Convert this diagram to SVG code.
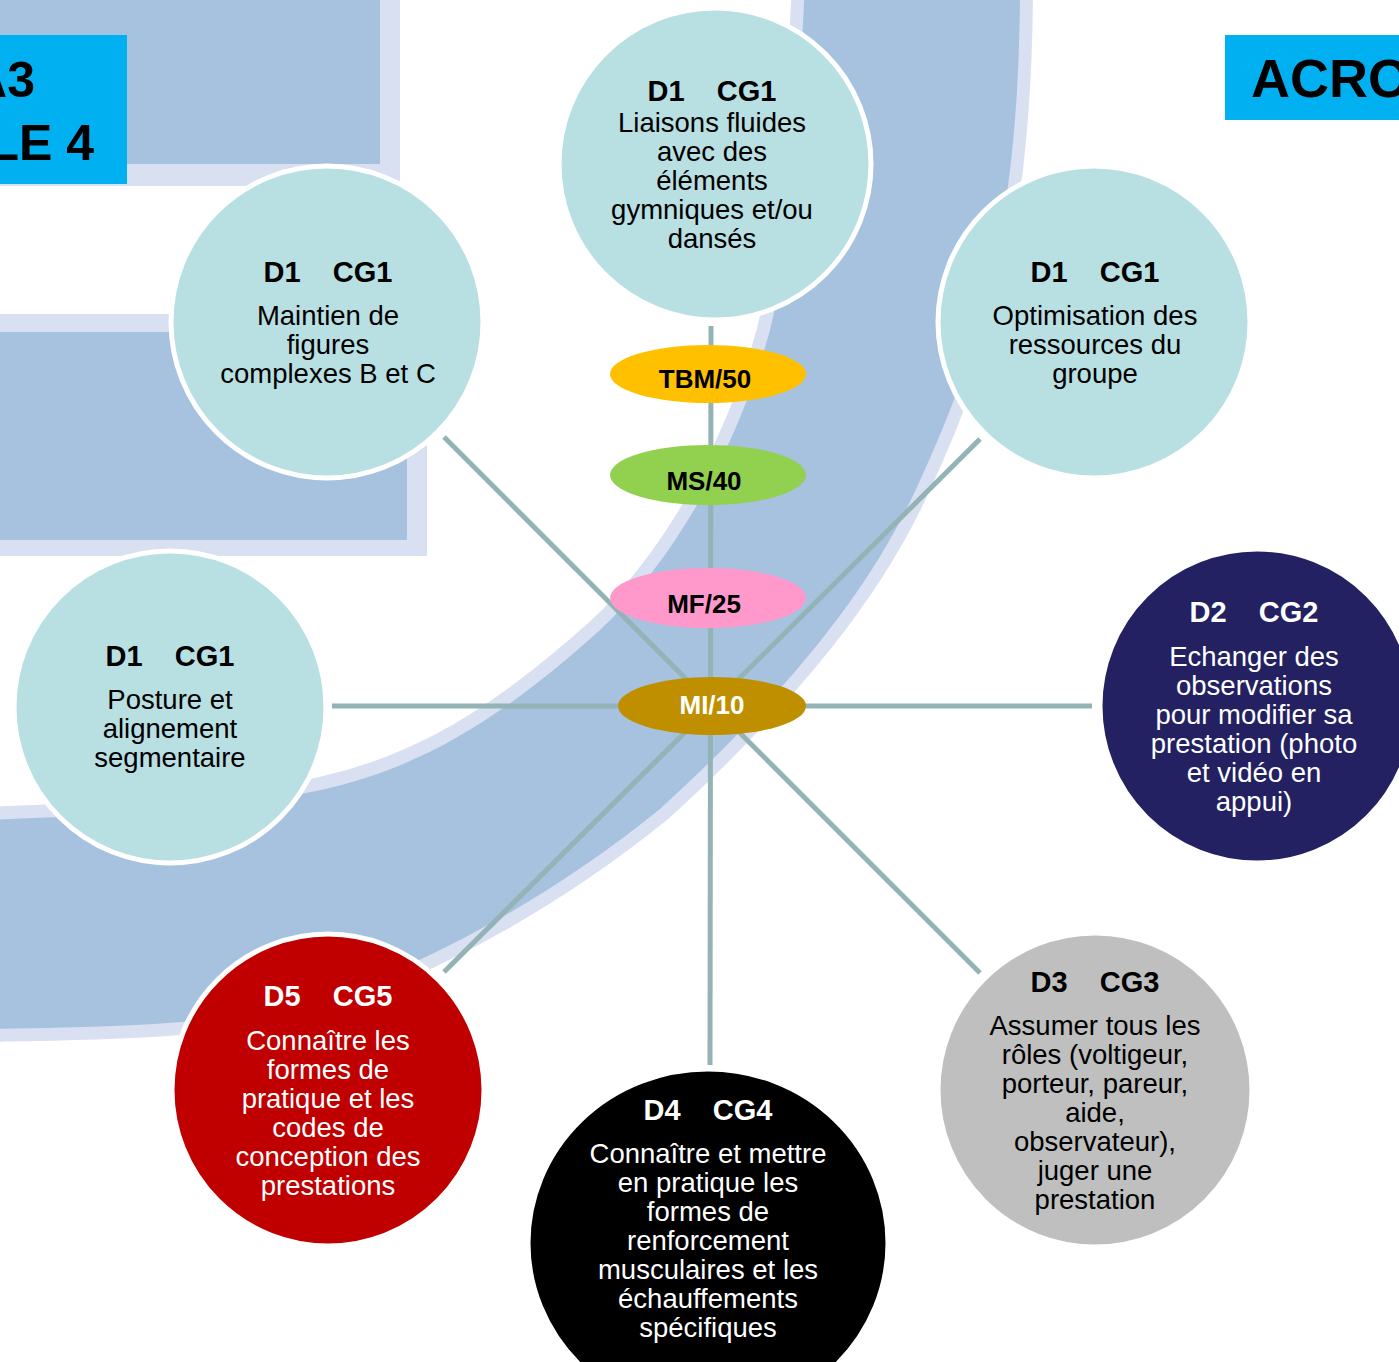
<svg xmlns="http://www.w3.org/2000/svg" width="1399" height="1362" viewBox="0 0 1399 1362">
  <style>
    .bg { fill: #a6c2df; }
    .fr { fill: #d9e0f1; }
    .band-fr { fill: none; stroke: #d9e0f1; stroke-width: 26; stroke-linejoin: round; }
    .conn { stroke: #93b3b6; stroke-width: 5; fill: none; }
    .node { stroke: #ffffff; stroke-width: 5; }
    .teal { fill: #b8dfe2; }
    .hd { font-family: "Liberation Sans", Arial, sans-serif; font-weight: bold; font-size: 29px; text-anchor: middle; white-space: pre; }
    .bd { font-family: "Liberation Sans", Arial, sans-serif; font-size: 27.5px; text-anchor: middle; }
    .lvl { font-family: "Liberation Sans", Arial, sans-serif; font-weight: bold; font-size: 26px; text-anchor: middle; }
    .ttl { font-family: "Liberation Sans", Arial, sans-serif; font-weight: bold; fill: #000; }
    .dk { fill: #000000; }
    .wt { fill: #ffffff; }
  </style>

  <g id="background">
    <rect x="0" y="0" width="1399" height="1362" fill="#ffffff"/>
    <rect class="fr" x="-10" y="-10" width="410" height="196"/>
    <rect class="bg" x="-10" y="-10" width="390" height="174"/>
    <rect class="fr" x="-10" y="314" width="437" height="242"/>
    <rect class="bg" x="-10" y="332" width="417" height="208"/>
    <path class="band-fr" d="M1020,-20 C1020,200 990,330 917,487 C870,590 790,690 660,809 C560,890 440,960 312,1003 C200,1027 100,1027 -20,1029 L-20,820 C150,815 250,805 321,790 C420,768 500,720 600,630 C680,555 740,440 770,330 C790,250 800,100 805,-20 Z"/>
    <path class="bg" d="M1020,-20 C1020,200 990,330 917,487 C870,590 790,690 660,809 C560,890 440,960 312,1003 C200,1027 100,1027 -20,1029 L-20,820 C150,815 250,805 321,790 C420,768 500,720 600,630 C680,555 740,440 770,330 C790,250 800,100 805,-20 Z"/>
  </g>

  <g id="title-left">
    <rect x="0" y="35" width="127" height="149" fill="#00b0f0"/>
    <text class="ttl" x="35" y="97" font-size="50" text-anchor="end">A3</text>
    <text class="ttl" x="94" y="160" font-size="50" text-anchor="end">LE 4</text>
  </g>
  <g id="title-right">
    <rect x="1225" y="35" width="180" height="85" fill="#00b0f0"/>
    <text class="ttl" x="1251" y="97" font-size="54">ACRO</text>
  </g>

  <g id="connectors">
    <line class="conn" x1="711" y1="326" x2="710" y2="1065"/>
    <line class="conn" x1="332" y1="706" x2="1092" y2="706"/>
    <line class="conn" x1="444" y1="437" x2="980" y2="973"/>
    <line class="conn" x1="980" y1="439" x2="444" y2="972"/>
  </g>

  <g id="node-liaisons">
    <circle class="node teal" cx="715" cy="164" r="156"/>
    <text class="hd dk" x="712" y="101">D1    CG1</text>
    <text class="bd dk" x="712" y="132">Liaisons fluides</text>
    <text class="bd dk" x="712" y="161">avec des</text>
    <text class="bd dk" x="712" y="190">éléments</text>
    <text class="bd dk" x="712" y="219">gymniques et/ou</text>
    <text class="bd dk" x="712" y="248">dansés</text>
  </g>

  <g id="node-maintien">
    <circle class="node teal" cx="327" cy="322" r="156"/>
    <text class="hd dk" x="328" y="282">D1    CG1</text>
    <text class="bd dk" x="328" y="325">Maintien de</text>
    <text class="bd dk" x="328" y="354">figures</text>
    <text class="bd dk" x="328" y="383">complexes B et C</text>
  </g>

  <g id="node-optimisation">
    <circle class="node teal" cx="1094" cy="322" r="156"/>
    <text class="hd dk" x="1095" y="282">D1    CG1</text>
    <text class="bd dk" x="1095" y="325">Optimisation des</text>
    <text class="bd dk" x="1095" y="354">ressources du</text>
    <text class="bd dk" x="1095" y="383">groupe</text>
  </g>

  <g id="node-posture">
    <circle class="node teal" cx="170" cy="707" r="156"/>
    <text class="hd dk" x="170" y="666">D1    CG1</text>
    <text class="bd dk" x="170" y="709">Posture et</text>
    <text class="bd dk" x="170" y="738">alignement</text>
    <text class="bd dk" x="170" y="767">segmentaire</text>
  </g>

  <g id="node-d2">
    <circle class="node" cx="1257" cy="706" r="157" fill="#232162"/>
    <text class="hd wt" x="1254" y="622">D2    CG2</text>
    <text class="bd wt" x="1254" y="666">Echanger des</text>
    <text class="bd wt" x="1254" y="695">observations</text>
    <text class="bd wt" x="1254" y="724">pour modifier sa</text>
    <text class="bd wt" x="1254" y="753">prestation (photo</text>
    <text class="bd wt" x="1254" y="782">et vidéo en</text>
    <text class="bd wt" x="1254" y="811">appui)</text>
  </g>

  <g id="node-d3">
    <circle class="node" cx="1095" cy="1090" r="157" fill="#bfbfbf"/>
    <text class="hd dk" x="1095" y="992">D3    CG3</text>
    <text class="bd dk" x="1095" y="1035">Assumer tous les</text>
    <text class="bd dk" x="1095" y="1064">rôles (voltigeur,</text>
    <text class="bd dk" x="1095" y="1093">porteur, pareur,</text>
    <text class="bd dk" x="1095" y="1122">aide,</text>
    <text class="bd dk" x="1095" y="1151">observateur),</text>
    <text class="bd dk" x="1095" y="1180">juger une</text>
    <text class="bd dk" x="1095" y="1209">prestation</text>
  </g>

  <g id="node-d4">
    <ellipse class="node" cx="708" cy="1243" rx="180" ry="174" fill="#000000"/>
    <text class="hd wt" x="708" y="1120">D4    CG4</text>
    <text class="bd wt" x="708" y="1163">Connaître et mettre</text>
    <text class="bd wt" x="708" y="1192">en pratique les</text>
    <text class="bd wt" x="708" y="1221">formes de</text>
    <text class="bd wt" x="708" y="1250">renforcement</text>
    <text class="bd wt" x="708" y="1279">musculaires et les</text>
    <text class="bd wt" x="708" y="1308">échauffements</text>
    <text class="bd wt" x="708" y="1337">spécifiques</text>
  </g>

  <g id="node-d5">
    <circle class="node" cx="328" cy="1090" r="156" fill="#c00000"/>
    <text class="hd wt" x="328" y="1006">D5    CG5</text>
    <text class="bd wt" x="328" y="1050">Connaître les</text>
    <text class="bd wt" x="328" y="1079">formes de</text>
    <text class="bd wt" x="328" y="1108">pratique et les</text>
    <text class="bd wt" x="328" y="1137">codes de</text>
    <text class="bd wt" x="328" y="1166">conception des</text>
    <text class="bd wt" x="328" y="1195">prestations</text>
  </g>

  <g id="level-tbm">
    <ellipse cx="708" cy="374" rx="98" ry="29" fill="#ffc000"/>
    <text class="lvl dk" x="705" y="388">TBM/50</text>
  </g>
  <g id="level-ms">
    <ellipse cx="708" cy="475" rx="98" ry="30" fill="#92d050"/>
    <text class="lvl dk" x="704" y="490">MS/40</text>
  </g>
  <g id="level-mf">
    <ellipse cx="708" cy="598" rx="98" ry="30" fill="#ff99cc"/>
    <text class="lvl dk" x="704" y="613">MF/25</text>
  </g>
  <g id="level-mi">
    <ellipse cx="712" cy="706" rx="94" ry="29" fill="#bf8f00"/>
    <text class="lvl wt" x="712" y="714">MI/10</text>
  </g>
</svg>
